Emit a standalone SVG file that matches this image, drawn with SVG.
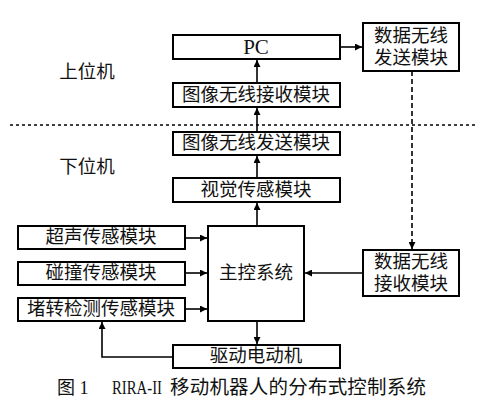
<svg xmlns="http://www.w3.org/2000/svg" width="484" height="404" viewBox="0 0 484 404">
<defs>
<marker id="ah" viewBox="0 0 10 10" refX="10" refY="5" markerWidth="9" markerHeight="7" markerUnits="userSpaceOnUse" orient="auto"><path d="M0,0 L10,5 L0,10 Z" fill="#000"/></marker>
</defs>
<style>
.box{fill:#fff;stroke:#000;stroke-width:2}
.t{font-family:"Liberation Serif","Noto Sans CJK SC",serif;font-size:18.5px;fill:#111;text-anchor:middle;dominant-baseline:central}
.c{stroke:#000;stroke-width:1.6;fill:none}
.d{stroke:#000;stroke-width:1.6;fill:none;stroke-dasharray:5 3}
.cap{font-family:"Liberation Serif","Noto Sans CJK SC",serif;fill:#111}
</style>
<rect width="484" height="404" fill="#fff"/>
<text class="t" x="87" y="72">上位机</text>
<text class="t" x="87" y="167">下位机</text>
<line x1="10" y1="125" x2="476" y2="125" stroke="#000" stroke-width="1.6" stroke-dasharray="3 3"/>
<g id="pc"><rect class="box" x="173" y="35" width="167" height="24"/><text class="t" x="256" y="47" style="font-size:21px">PC</text></g>
<g id="send_data"><rect class="box" x="363" y="23" width="96" height="48"/><text class="t" x="411" y="36">数据无线</text><text class="t" x="411" y="58">发送模块</text></g>
<g id="img_recv"><rect class="box" x="173" y="83" width="167" height="24"/><text class="t" x="256" y="95">图像无线接收模块</text></g>
<g id="img_send"><rect class="box" x="173" y="132" width="167" height="23"/><text class="t" x="256" y="143">图像无线发送模块</text></g>
<g id="vision"><rect class="box" x="173" y="178" width="167" height="24"/><text class="t" x="256" y="190">视觉传感模块</text></g>
<g id="main"><rect class="box" x="208" y="226" width="96" height="95"/><text class="t" x="256" y="273">主控系统</text></g>
<g id="ultra"><rect class="box" x="18" y="226" width="167" height="23"/><text class="t" x="101" y="237">超声传感模块</text></g>
<g id="collide"><rect class="box" x="18" y="262" width="167" height="23"/><text class="t" x="101" y="273">碰撞传感模块</text></g>
<g id="stall"><rect class="box" x="18" y="298" width="167" height="23"/><text class="t" x="101" y="309">堵转检测传感模块</text></g>
<g id="recv_data"><rect class="box" x="363" y="250" width="96" height="46"/><text class="t" x="411" y="262">数据无线</text><text class="t" x="411" y="284">接收模块</text></g>
<g id="motor"><rect class="box" x="173" y="345" width="167" height="23"/><text class="t" x="256" y="356">驱动电动机</text></g>
<g id="connectors">
<line class="c" x1="340" y1="47" x2="362" y2="47" marker-end="url(#ah)"/>
<line class="c" x1="257" y1="83" x2="257" y2="60" marker-end="url(#ah)"/>
<line class="c" x1="257" y1="132" x2="257" y2="108" marker-end="url(#ah)"/>
<line class="c" x1="257" y1="178" x2="257" y2="156" marker-end="url(#ah)"/>
<line class="c" x1="257" y1="226" x2="257" y2="203" marker-end="url(#ah)"/>
<line class="c" x1="185" y1="238" x2="207" y2="238" marker-end="url(#ah)"/>
<line class="c" x1="185" y1="273" x2="207" y2="273" marker-end="url(#ah)"/>
<line class="c" x1="185" y1="309" x2="207" y2="309" marker-end="url(#ah)"/>
<line class="c" x1="363" y1="273" x2="305" y2="273" marker-end="url(#ah)"/>
<line class="c" x1="257" y1="321" x2="257" y2="344" marker-end="url(#ah)"/>
<polyline class="c" points="173,357 102,357 102,322" marker-end="url(#ah)"/>
<line class="d" x1="412" y1="71" x2="412" y2="249" marker-end="url(#ah)"/>
</g>
<text class="cap" y="394" font-size="18"><tspan x="57">图 1</tspan><tspan x="112" font-size="19" textLength="50" lengthAdjust="spacingAndGlyphs">RIRA-II</tspan><tspan x="170" font-size="19.5" textLength="256" lengthAdjust="spacing">移动机器人的分布式控制系统</tspan></text>
</svg>
